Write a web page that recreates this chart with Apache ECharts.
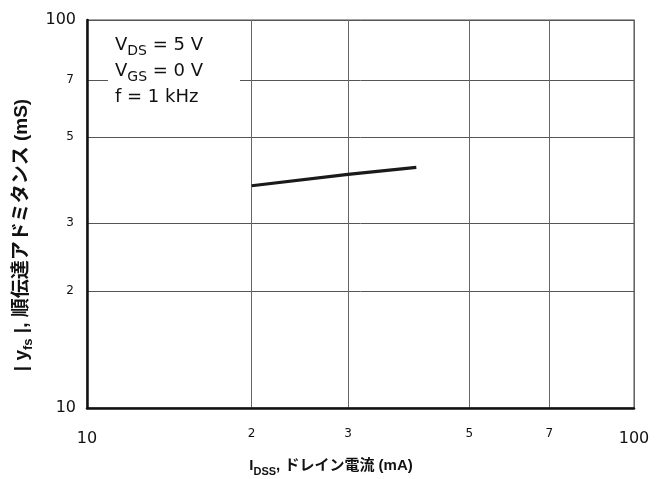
<!DOCTYPE html>
<html>
<head>
<meta charset="utf-8">
<script src="https://cdn.jsdelivr.net/npm/echarts@6/dist/echarts.min.js"></script>
<style>
html, body { margin: 0; padding: 0; background: #fff; }
#chart { width: 664px; height: 479px; }
</style>
</head>
<body>
<div id="chart"></div>
<script>
// IDSS (x) vs |yfs| (y), both log scale
let idss = [20, 30, 40];
let yfs = [37.4, 40.0, 41.7];

let xTickValues = [10, 20, 30, 50, 70, 100];
let xTickLabels = ['10', '2', '3', '5', '7', '100'];
let yTickValues = [10, 20, 30, 50, 70, 100];
let yTickLabels = ['10', '2', '3', '5', '7', '100'];

let conditionLines = ['{n|V}{s|DS}{n| = 5 V}', '{n|V}{s|GS}{n| = 0 V}', '{n|f = 1 kHz}'];

const latin = '"DejaVu Sans", "Noto Sans CJK JP", sans-serif';
const titleFont = '"Liberation Sans", "Noto Sans CJK JP", sans-serif';

function labelOf(values, labels, v){
	let i = values.findIndex(t => Math.abs(t - v) < 1e-6);
	return i < 0 ? '' : labels[i];
}

let chart = echarts.init(document.getElementById('chart'));

let opt = {
	backgroundColor: '#fff',
	animation: false,
	grid: {
		left: 87, right: 30, top: 20, bottom: 71,
		show: true,
		borderColor: '#888',
		borderWidth: 1.5
	},
	xAxis: {
		type: 'log',
		logBase: 10,
		min: 10, max: 100,
		axisLine: { show: true, onZero: false, lineStyle: { color: '#111', width: 2.5 } },
		axisTick: { show: false, customValues: xTickValues },
		splitLine: { show: true, lineStyle: { color: '#666', width: 1 } },
		axisLabel: {
			customValues: xTickValues,
			margin: 20,
			formatter: v => {
				let s = labelOf(xTickValues, xTickLabels, v);
				return (v === 10 || v === 100) ? '{maj|' + s + '}' : '{min|' + s + '}';
			},
			rich: {
				maj: { fontFamily: latin, fontSize: 16, lineHeight: 16, color: '#111', padding: [6, 0, 0, 0] },
				min: { fontFamily: latin, fontSize: 12, lineHeight: 12, color: '#111' }
			}
		}
	},
	yAxis: {
		type: 'log',
		logBase: 10,
		min: 10, max: 100,
		axisLine: { show: true, onZero: false, lineStyle: { color: '#111', width: 2.5 } },
		axisTick: { show: false, customValues: yTickValues },
		splitLine: { show: true, lineStyle: { color: '#555', width: 1 } },
		axisLabel: {
			customValues: yTickValues,
			margin: 11,
			formatter: v => {
				let s = labelOf(yTickValues, yTickLabels, v);
				return (v === 10 || v === 100) ? '{maj|' + s + '}' : '{min|' + s + '}';
			},
			rich: {
				maj: { fontFamily: latin, fontSize: 16, color: '#111' },
				min: { fontFamily: latin, fontSize: 12, color: '#111', padding: [0, 2, 0, 0] }
			}
		}
	},
	series: [{
		type: 'line',
		data: idss.map((x, i) => [x, yfs[i]]),
		showSymbol: false,
		lineStyle: { color: '#1a1a1a', width: 3.2 },
		z: 5
	}],
	graphic: [
		{
			type: 'rect',
			z: 10,
			shape: { x: 108, y: 26, width: 132, height: 88 },
			style: { fill: '#fff' }
		},
		{
			type: 'text',
			z: 11,
			x: 115, y: 32,
			style: {
				text: conditionLines.join('\n'),
				fill: '#111',
				rich: {
					n: { fontFamily: latin, fontSize: 18, lineHeight: 26, verticalAlign: 'middle', fill: '#111' },
					s: { fontFamily: latin, fontSize: 14, lineHeight: 17, verticalAlign: 'bottom', fill: '#111' }
				}
			}
		},
		{
			type: 'text',
			x: 331, y: 466,
			style: {
				text: '{b|I}{s|DSS}{b|, ドレイン電流 (mA)}',
				align: 'center',
				verticalAlign: 'middle',
				fill: '#111',
				rich: {
					b: { fontFamily: titleFont, fontWeight: 'bold', fontSize: 15, lineHeight: 22, verticalAlign: 'middle', fill: '#111' },
					s: { fontFamily: titleFont, fontWeight: 'bold', fontSize: 11, lineHeight: 15, verticalAlign: 'bottom', fill: '#111' }
				}
			}
		},
		{
			type: 'text',
			x: 22, y: 235,
			rotation: Math.PI / 2,
			style: {
				text: '{b|| y}{s|fs}{b| |, 順伝達アドミタンス (mS)}',
				align: 'center',
				verticalAlign: 'middle',
				fill: '#111',
				rich: {
					b: { fontFamily: titleFont, fontWeight: 'bold', fontSize: 19, lineHeight: 26, verticalAlign: 'middle', fill: '#111' },
					s: { fontFamily: titleFont, fontWeight: 'bold', fontSize: 13, lineHeight: 17, verticalAlign: 'bottom', fill: '#111' }
				}
			}
		}
	]
};

chart.setOption(opt);
</script>
</body>
</html>
